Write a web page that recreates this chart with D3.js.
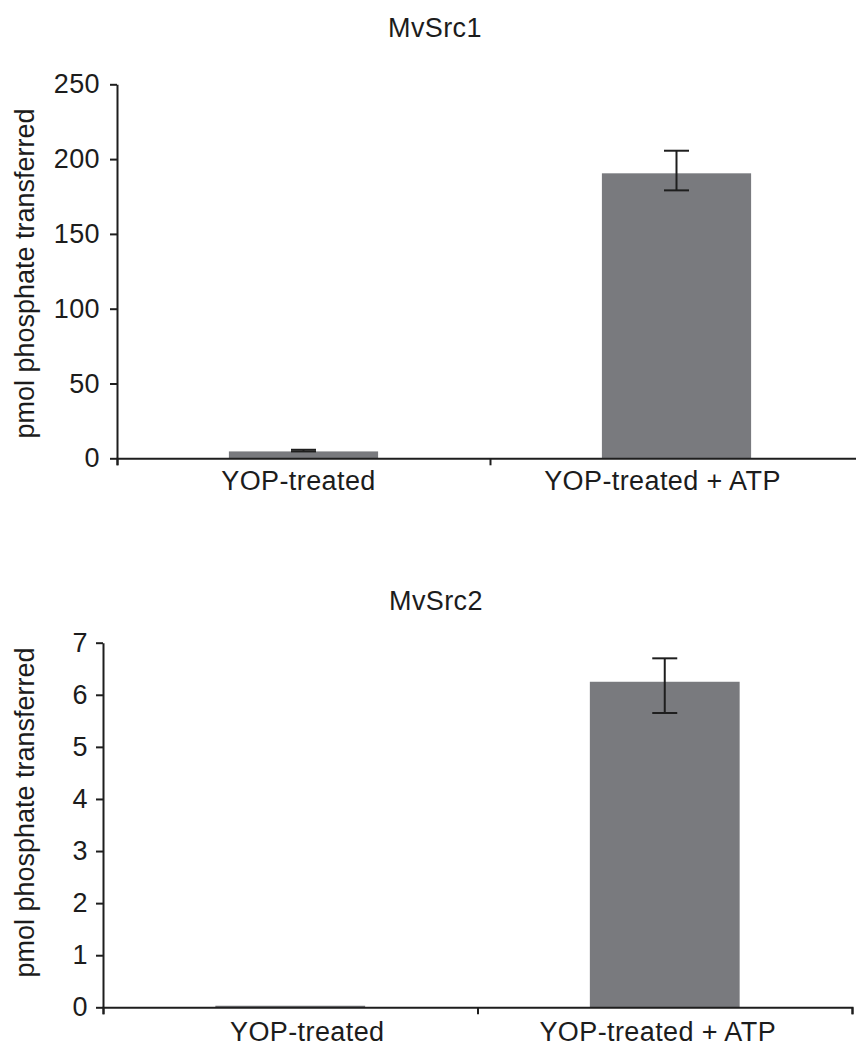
<!DOCTYPE html>
<html>
<head>
<meta charset="utf-8">
<script src="https://cdn.jsdelivr.net/npm/d3@7"></script>
<style>
  html, body { margin: 0; padding: 0; background: #fff; }
  svg { display: block; }
  text { font-family: "Liberation Sans", Arial, Helvetica, sans-serif; fill: #1c1c1c; }
</style>
</head>
<body>
<svg id="chart" width="856" height="1047"></svg>
<script>
// Kinase assay: phosphate transferred by MvSrc1 and MvSrc2
const categories = ["YOP-treated", "YOP-treated + ATP"];
const titles = ["MvSrc1", "MvSrc2"];
const yAxisLabel = "pmol phosphate transferred";

const src1Values = [4.6, 190.5];
const src1ErrHigh = [5.7, 205.6];
const src1ErrLow = [4.6, 179.1];
const src1Ticks = [0, 50, 100, 150, 200, 250];

const src2Values = [0.03, 6.25];
const src2ErrHigh = [null, 6.70];
const src2ErrLow = [null, 5.65];
const src2Ticks = [0, 1, 2, 3, 4, 5, 6, 7];

const svg = d3.select("#chart");
const barColor = "#797a7e";
const inkColor = "#1e1e1e";
const fontSize = 27;

function drawPanel(cfg) {
  const g = svg.append("g");

  const x = d3.scaleBand()
    .domain(categories)
    .range([cfg.left, cfg.right])
    .paddingInner(0.6)
    .paddingOuter(0.3);

  const y = d3.scaleLinear()
    .domain([0, d3.max(cfg.ticks)])
    .range([cfg.y0, cfg.yTop]);

  const rows = categories.map((c, i) => ({
    cat: c, v: cfg.values[i], hi: cfg.hi[i], lo: cfg.lo[i]
  }));

  // title
  g.append("text")
    .attr("x", cfg.titleX)
    .attr("y", cfg.titleY)
    .attr("text-anchor", "middle")
    .style("font-size", fontSize + "px")
    .style("letter-spacing", "0.4px")
    .text(cfg.title);

  // bars
  g.selectAll("rect.bar").data(rows).join("rect")
    .attr("class", "bar")
    .attr("x", d => x(d.cat))
    .attr("width", x.bandwidth())
    .attr("y", d => y(d.v))
    .attr("height", d => Math.max(1, y(0) - y(d.v)))
    .attr("fill", barColor);

  // error bars
  const eb = rows.filter(d => d.hi != null);
  const cap = 25;
  const ebG = g.selectAll("g.err").data(eb).join("g").attr("class", "err")
    .attr("stroke", inkColor).attr("stroke-width", 2);
  ebG.append("line")
    .attr("x1", d => x(d.cat) + x.bandwidth() / 2)
    .attr("x2", d => x(d.cat) + x.bandwidth() / 2)
    .attr("y1", d => y(d.hi)).attr("y2", d => y(d.lo));
  ebG.append("line")
    .attr("x1", d => x(d.cat) + x.bandwidth() / 2 - cap / 2)
    .attr("x2", d => x(d.cat) + x.bandwidth() / 2 + cap / 2)
    .attr("y1", d => y(d.hi)).attr("y2", d => y(d.hi));
  ebG.append("line")
    .attr("x1", d => x(d.cat) + x.bandwidth() / 2 - cap / 2)
    .attr("x2", d => x(d.cat) + x.bandwidth() / 2 + cap / 2)
    .attr("y1", d => y(d.lo)).attr("y2", d => y(d.lo));

  // y axis
  const yAx = g.append("g")
    .attr("transform", `translate(${cfg.left},0)`)
    .call(d3.axisLeft(y).tickValues(cfg.ticks).tickSize(7).tickSizeOuter(0)
      .tickPadding(cfg.tickPad).tickFormat(d3.format("d")));
  yAx.select(".domain").attr("stroke", inkColor).attr("stroke-width", 2);
  yAx.selectAll(".tick line").attr("stroke", inkColor).attr("stroke-width", 2);
  yAx.selectAll(".tick text")
    .attr("fill", "#1c1c1c")
    .style("font-size", fontSize + "px")
    .style("font-family", "'Liberation Sans', Arial, sans-serif")
    .style("letter-spacing", "0.4px");

  // x axis: tick marks at category boundaries
  const bounds = d3.scaleLinear().domain([0, categories.length]).range([cfg.left, cfg.right]);
  const xAx = g.append("g")
    .attr("transform", `translate(0,${cfg.y0})`)
    .call(d3.axisBottom(bounds).tickValues(d3.range(categories.length + 1))
      .tickSize(7).tickSizeOuter(7).tickFormat(""));
  xAx.select(".domain").attr("stroke", inkColor).attr("stroke-width", 2);
  xAx.selectAll(".tick line").attr("stroke", inkColor).attr("stroke-width", 2);

  // category labels
  g.selectAll("text.cat").data(rows).join("text")
    .attr("class", "cat")
    .attr("x", (d, i) => x(d.cat) + x.bandwidth() / 2 + cfg.catDx[i])
    .attr("y", cfg.catY)
    .attr("text-anchor", "middle")
    .style("font-size", fontSize + "px")
    .style("letter-spacing", "0.4px")
    .text(d => d.cat);

  // y axis title
  g.append("text")
    .attr("transform", `translate(${cfg.labelX},${cfg.labelY}) rotate(-90)`)
    .attr("text-anchor", "middle")
    .style("font-size", fontSize + "px")
    .text(yAxisLabel);
}

drawPanel({
  title: titles[0], titleX: 435, titleY: 37,
  values: src1Values, hi: src1ErrHigh, lo: src1ErrLow, ticks: src1Ticks,
  left: 117, right: 863, yTop: 84.3, y0: 458.3, tickPad: 10,
  catY: 490, catDx: [-5, -14],
  labelX: 34, labelY: 273.5
});

drawPanel({
  title: titles[1], titleX: 436, titleY: 610,
  values: src2Values, hi: src2ErrHigh, lo: src2ErrLow, ticks: src2Ticks,
  left: 103, right: 852, yTop: 642.7, y0: 1007.3, tickPad: 8,
  catY: 1041, catDx: [17, -7],
  labelX: 34, labelY: 812.5
});
</script>
</body>
</html>
